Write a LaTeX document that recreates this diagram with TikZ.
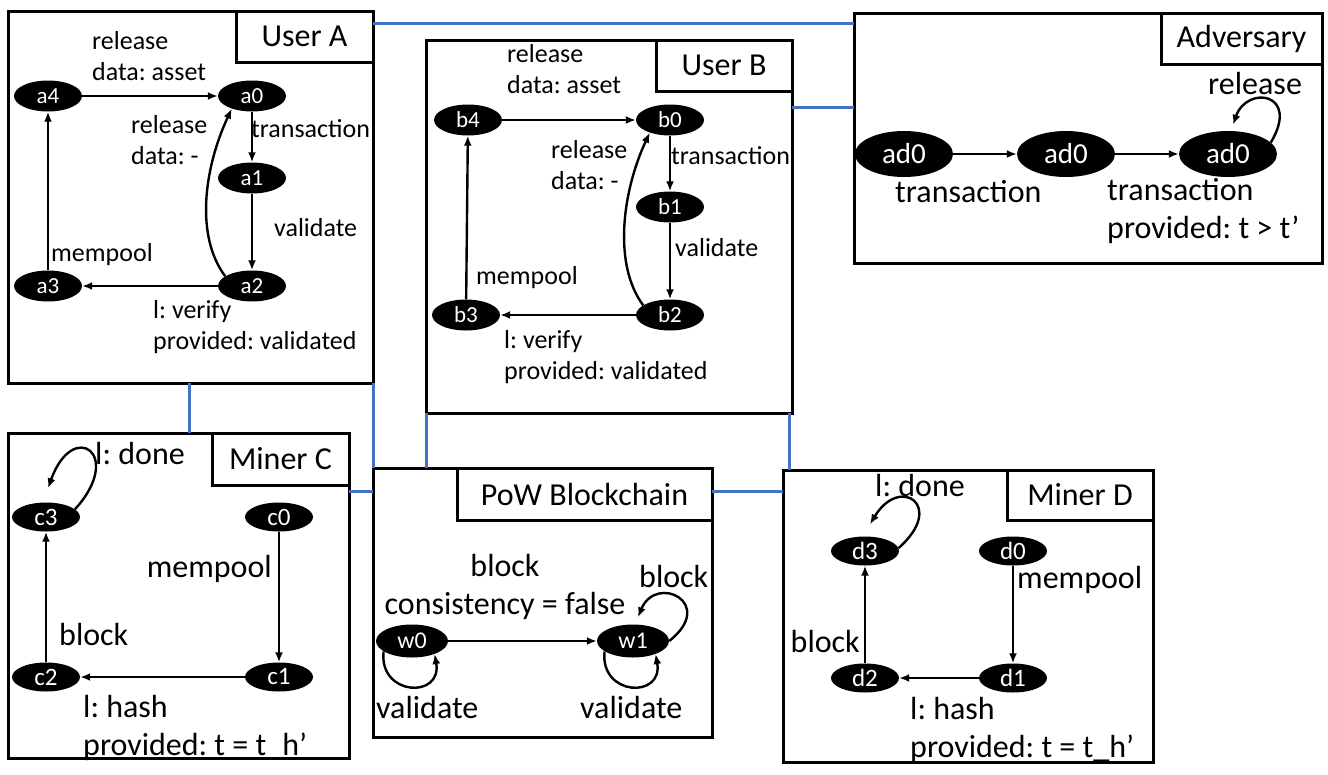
\documentclass[tikz,border=0pt]{standalone}
\usepackage{fontspec}
\setmainfont{Carlito}
\usetikzlibrary{positioning,shapes.geometric,arrows.meta}
\definecolor{linkblue}{HTML}{4472C4}
\frenchspacing
\tikzset{
  frame/.style={draw, line width=3pt, inner sep=0pt, outer sep=0pt, anchor=north west},
  titlebox/.style={draw, line width=3pt, inner sep=0pt, outer sep=0pt, anchor=north east, font=\fontsize{32}{38}\selectfont},
  userstate/.style={ellipse, fill=black, text=white, inner sep=0pt, minimum width=68pt, minimum height=31pt, font=\fontsize{23}{27}\selectfont},
  minerstate/.style={ellipse, fill=black, text=white, inner sep=0pt, minimum width=68pt, minimum height=29pt, font=\fontsize{25}{29}\selectfont},
  chainstate/.style={ellipse, fill=black, text=white, inner sep=0pt, minimum width=72pt, minimum height=33pt, font=\fontsize{24}{28}\selectfont},
  advstate/.style={ellipse, fill=black, text=white, inner sep=0pt, minimum width=98pt, minimum height=46pt, font=\fontsize{29}{33}\selectfont},
  trans/.style={line width=2.4pt, -{Latex[length=10pt,width=8pt]}},
  link/.style={draw=linkblue, line width=3pt},
  lab/.style={inner sep=0pt, align=left, anchor=west, font=\fontsize{26}{31}\selectfont},
  biglab/.style={inner sep=0pt, align=left, anchor=west, font=\fontsize{32}{38.4}\selectfont}
}
\begin{document}
\begin{tikzpicture}[x=1pt,y=-1pt]
\useasboundingbox (0,0) rectangle (1328,774);

% frames
\node[frame, minimum width=365pt, minimum height=372pt] (userA) at (8,11) {};
\node[titlebox, minimum width=137pt, minimum height=51pt] (userAt) at (userA.north east) {User A};
\node[frame, minimum width=366pt, minimum height=373pt] (userB) at (426,40) {};
\node[titlebox, minimum width=136pt, minimum height=51pt] (userBt) at (userB.north east) {User B};
\node[frame, minimum width=468pt, minimum height=250pt] (adv) at (854,13) {};
\node[titlebox, minimum width=161pt, minimum height=51pt] (advt) at (adv.north east) {Adversary};
\node[frame, minimum width=341pt, minimum height=325pt] (minerC) at (8,433) {};
\node[titlebox, minimum width=137pt, minimum height=52pt] (minerCt) at (minerC.north east) {Miner C};
\node[frame, minimum width=339pt, minimum height=269pt] (pow) at (373,468) {};
\node[titlebox, minimum width=255pt, minimum height=52pt] (powt) at (pow.north east) {PoW Blockchain};
\node[frame, minimum width=370pt, minimum height=292pt] (minerD) at (783,470) {};
\node[titlebox, minimum width=146pt, minimum height=50pt] (minerDt) at (minerD.north east) {Miner D};

% links between the parties
\draw[link] (userA.east |- 0,23) -- (adv.west |- 0,23);
\draw[link] (userB.east |- 0,107) -- (adv.west |- 0,107);
\draw[link] (userA.south -| 189,0) -- (minerC.north -| 189,0);
\draw[link] (userA.south east) -- (pow.north west);
\draw[link] (minerC.east |- 0,491) -- (pow.west |- 0,491);
\draw[link] (userB.south west) -- (pow.north -| userB.south west);
\draw[link] (userB.south -| 789,0) -- (minerD.north -| 789,0);
\draw[link] (pow.east |- 0,491) -- (minerD.west |- 0,491);

% user A
\node[userstate] (a4) at (48,96) {a4};
\node[userstate] (a0) at (252,96) {a0};
\node[userstate] (a1) at (252,178) {a1};
\node[userstate] (a2) at (252,286) {a2};
\node[userstate] (a3) at (48,286) {a3};
\draw[trans] (a4) -- (a0);
\draw[trans] (a0) -- (a1);
\draw[trans] (a1) -- (a2);
\draw[trans] (a2) -- (a3);
\draw[trans] (a3) -- (a4);
\draw[trans] (a2.160) .. controls +(-30,-40) and +(-28,60) .. (a0.212);
\node[lab] (relA) at (92,56) {release\\data: asset};
\node[lab] (trA) at (251,129) {transaction};
\node[lab] (valA) at (274,228) {validate};
\node[lab] (backA) at (131,140) {release\\data: -};
\node[lab] (memA) at (51,255) {mempool};
\node[lab] (verA) at (153,327) {l: verify\\provided: validated};

% user B
\node[userstate] (b4) at (468,120) {b4};
\node[userstate] (b0) at (670,120) {b0};
\node[userstate] (b1) at (670,207) {b1};
\node[userstate] (b2) at (670,315) {b2};
\node[userstate] (b3) at (466,315) {b3};
\draw[trans] (b4) -- (b0);
\draw[trans] (b0) -- (b1);
\draw[trans] (b1) -- (b2);
\draw[trans] (b2) -- (b3);
\draw[trans] (b3) -- (b4);
\draw[trans] (b2.160) .. controls +(-30,-40) and +(-28,60) .. (b0.212);
\node[lab] (relB) at (507,69) {release\\data: asset};
\node[lab] (trB) at (671,156) {transaction};
\node[lab] (valB) at (675,248) {validate};
\node[lab] (backB) at (551,165) {release\\data: -};
\node[lab] (memB) at (476,278) {mempool};
\node[lab] (verB) at (504,357) {l: verify\\provided: validated};

% adversary
\node[advstate] (adv0) at (904,154) {ad0};
\node[advstate] (adv1) at (1066,154) {ad0};
\node[advstate] (adv2) at (1228,154) {ad0};
\draw[trans] (adv0) -- (adv1);
\draw[trans] (adv1) -- (adv2);
\draw[trans] (adv2.15) .. controls +(30,-50) and +(14,-40) .. ([xshift=5pt,yshift=6pt]adv2.north);
\node[biglab] (trAdv) at (895,192) {transaction};
\node[biglab] (trAdv2) at (1107,211) {transaction\\provided: t > t’};
\node[biglab] (relAdv) at (1208,84) {release};

% miner C
\node[minerstate] (c3) at (46,517) {c3};
\node[minerstate] (c0) at (279,517) {c0};
\node[minerstate] (c1) at (279,677) {c1};
\node[minerstate] (c2) at (46,677) {c2};
\draw[trans] (c0) -- (c1);
\draw[trans] (c1) -- (c2);
\draw[trans] (c2) -- (c3);
\draw[trans] (c3.15) .. controls +(50,-55) and +(25,-70) .. ([xshift=2pt,yshift=14pt]c3.north);
\node[biglab] (doneC) at (95,454) {l: done};
\node[biglab, anchor=east] (memC) at (272,569) {mempool};
\node[biglab] (blkC) at (59,634) {block};
\node[biglab] (hashC) at (83,728) {l: hash\\provided: t = t\_h’};

% PoW blockchain
\node[chainstate] (w0) at (412,641) {w0};
\node[chainstate] (w1) at (633,641) {w1};
\draw[trans] (w0) -- (w1);
\draw[trans] (w0.200) .. controls +(-5,45) and +(8,45) .. (w0.330);
\draw[trans] (w1.200) .. controls +(-5,45) and +(8,45) .. (w1.330);
\draw[trans] (w1.east) .. controls +(48,-38) and +(18,-44) .. ([xshift=5pt,yshift=7pt]w1.north);
\node[biglab, align=center, anchor=center] (consW) at (505,587) {block\\consistency = false};
\node[biglab] (valW0) at (376,707) {validate};
\node[biglab] (valW1) at (580,707) {validate};
\node[biglab] (blkW) at (639,576) {block};

% miner D
\node[minerstate] (d3) at (865,551) {d3};
\node[minerstate] (d0) at (1013,551) {d0};
\node[minerstate] (d1) at (1013,678) {d1};
\node[minerstate] (d2) at (865,678) {d2};
\draw[trans] (d0) -- (d1);
\draw[trans] (d1) -- (d2);
\draw[trans] (d2) -- (d3);
\draw[trans] (d3.5) .. controls +(48,-42) and +(30,-50) .. ([xshift=5pt,yshift=12pt]d3.north);
\node[biglab] (doneD) at (875,486) {l: done};
\node[biglab] (memD) at (1017,580) {mempool};
\node[biglab, anchor=east] (blkD) at (860,641) {block};
\node[biglab] (hashD) at (910,730) {l: hash\\provided: t = t\_h’};
\end{tikzpicture}
\end{document}
